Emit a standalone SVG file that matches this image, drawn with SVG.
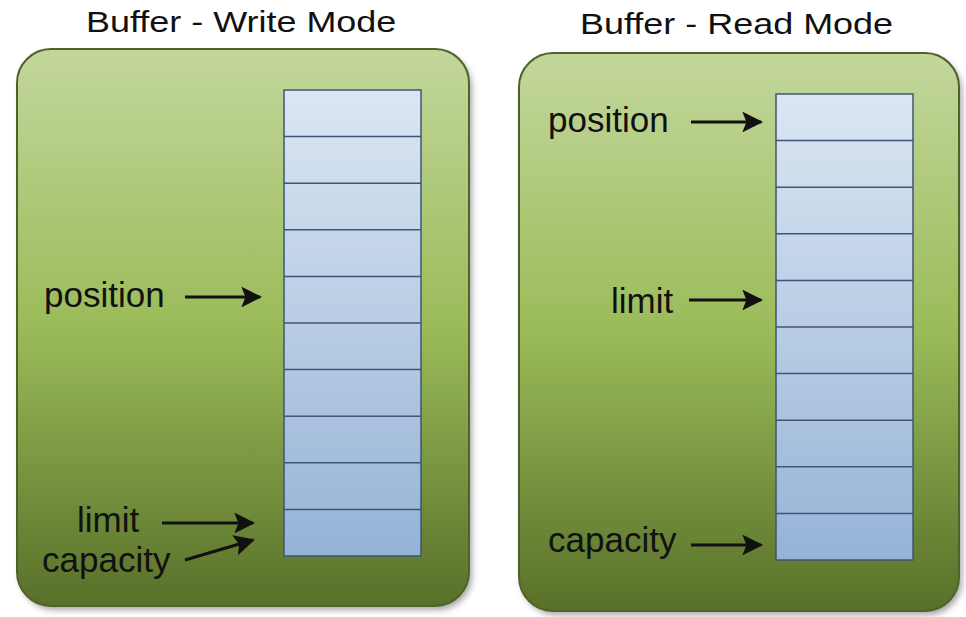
<svg xmlns="http://www.w3.org/2000/svg" width="966" height="617" viewBox="0 0 966 617">
  <defs>
    <linearGradient id="panelGrad" x1="0" y1="0" x2="0" y2="1">
      <stop offset="0" stop-color="#c3d79c"/>
      <stop offset="0.5" stop-color="#9bbb59"/>
      <stop offset="1" stop-color="#587029"/>
    </linearGradient>
    <linearGradient id="cellGrad" x1="0" y1="0" x2="0" y2="1">
      <stop offset="0" stop-color="#dce6f2"/>
      <stop offset="1" stop-color="#95b3d7"/>
    </linearGradient>
    <filter id="shadow" x="-10%" y="-10%" width="120%" height="120%">
      <feGaussianBlur stdDeviation="3"/>
    </filter>
    <marker id="arrow" viewBox="0 0 10 10" refX="9" refY="5" markerWidth="7" markerHeight="6.5" markerUnits="strokeWidth" orient="auto">
      <path d="M0,0 L10,5 L0,10 L2,5 z" fill="#111"/>
    </marker>
  </defs>
  <style>
    .panel { fill: url(#panelGrad); stroke: #4f6228; stroke-width: 2; }
    .shadow { fill: #000; opacity: 0.35; filter: url(#shadow); }
    .cells { fill: url(#cellGrad); stroke: #3e5675; stroke-width: 1.5; }
    .cellline { stroke: #3e5675; stroke-width: 1.5; }
    .title { font-family: "Liberation Sans", Arial, sans-serif; font-size: 29px; fill: #111; }
    .label { font-family: "Liberation Sans", Arial, sans-serif; font-size: 35px; fill: #111; }
    .conn { stroke: #111; stroke-width: 3.2; fill: none; marker-end: url(#arrow); }
  </style>

  <g id="write-mode">
    <text class="title" transform="translate(86,32) scale(1.24,1)" x="0" y="0">Buffer - Write Mode</text>
    <rect class="shadow" x="20" y="53" width="452" height="557" rx="34"/>
    <rect class="panel" x="17" y="49" width="452" height="557" rx="34"/>
    <g id="write-buffer">
      <rect class="cells" x="284" y="90" width="137" height="466"/>
      <path class="cellline" d="M284,136.6H421 M284,183.2H421 M284,229.8H421 M284,276.4H421 M284,323H421 M284,369.6H421 M284,416.2H421 M284,462.8H421 M284,509.4H421"/>
    </g>
    <text class="label" x="44" y="307">position</text>
    <text class="label" x="77" y="532">limit</text>
    <text class="label" x="42" y="572">capacity</text>
  </g>

  <g id="read-mode">
    <text class="title" transform="translate(580,34) scale(1.24,1)" x="0" y="0">Buffer - Read Mode</text>
    <rect class="shadow" x="522" y="57" width="440" height="558" rx="34"/>
    <rect class="panel" x="519" y="53" width="440" height="558" rx="34"/>
    <g id="read-buffer">
      <rect class="cells" x="776" y="94" width="137" height="466"/>
      <path class="cellline" d="M776,140.6H913 M776,187.2H913 M776,233.8H913 M776,280.4H913 M776,327H913 M776,373.6H913 M776,420.2H913 M776,466.8H913 M776,513.4H913"/>
    </g>
    <text class="label" x="548" y="132">position</text>
    <text class="label" x="611" y="313">limit</text>
    <text class="label" x="548" y="552">capacity</text>
  </g>

  <g id="connectors">
    <line class="conn" x1="185" y1="297" x2="260" y2="297"/>
    <line class="conn" x1="162" y1="523" x2="253" y2="523"/>
    <line class="conn" x1="185" y1="560" x2="253" y2="540"/>
    <line class="conn" x1="691" y1="122" x2="761" y2="122"/>
    <line class="conn" x1="689" y1="300" x2="761" y2="300"/>
    <line class="conn" x1="691" y1="545" x2="761" y2="545"/>
  </g>
</svg>
